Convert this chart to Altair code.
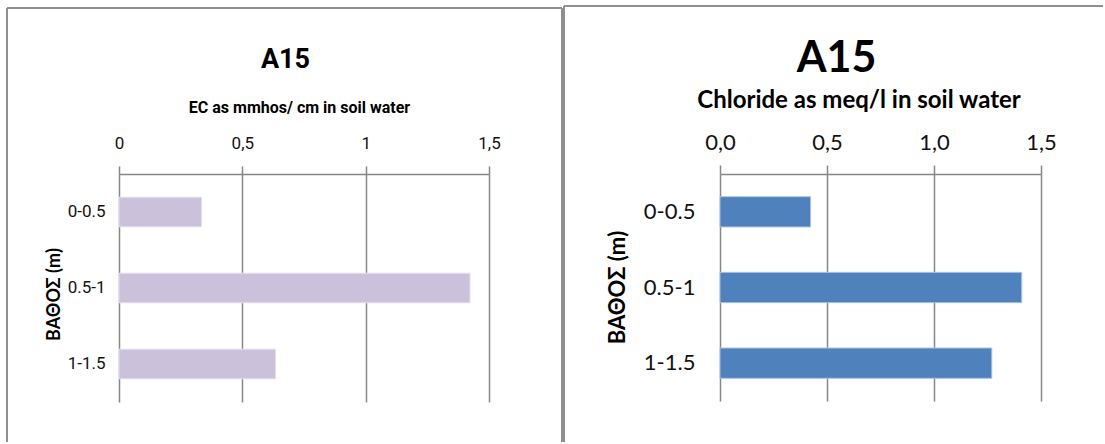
import altair as alt
import pandas as pd

# ---------------- data ----------------
depths = ["0-0.5", "0.5-1", "1-1.5"]
ec_values = [0.335, 1.423, 0.635]
cl_values = [0.423, 1.41, 1.27]
tick_values = [0, 0.5, 1.0, 1.5]
ec_tick_labels = ["0", "0,5", "1", "1,5"]
cl_tick_labels = ["0,0", "0,5", "1,0", "1,5"]
panel_title = "A15"
ec_axis_title = "EC as mmhos/ cm in soil water"
cl_axis_title = "Chloride as meq/l in soil water"
depth_title = "ΒΑΘΟΣ (m)"

ec_df = pd.DataFrame({"depth": depths, "value": ec_values})
cl_df = pd.DataFrame({"depth": depths, "value": cl_values})
one = pd.DataFrame({"k": [0]})

NARROW = "Roboto, Liberation Sans, sans-serif"
WIDE = "Lato, Open Sans, sans-serif"
GRID = "#878787"
BORDER = "#8f8f8f"
TXT = "#111111"


def label_expr(values, labels):
    expr = "''"
    for v, l in reversed(list(zip(values, labels))):
        expr = f"datum.value == {v} ? '{l}' : ({expr})"
    return expr


def vrule(x, y1, y2):
    return alt.Chart(one).mark_rule(color=BORDER, strokeWidth=2).encode(
        x=alt.value(x), y=alt.value(y1), y2=alt.value(y2))


def hrule(y, x1, x2):
    return alt.Chart(one).mark_rule(color=BORDER, strokeWidth=2).encode(
        y=alt.value(y), x=alt.value(x1), x2=alt.value(x2))


def panel(df, color, stroke, width, height, tick_labels, axis_title, font,
          tick_size, tick_label_size, tick_label_pad, title_x, title_y, title_size,
          ylab_size, ylab_pad, ytitle_font, ytitle_size, ytitle_x, ytitle_y,
          pad_inner, head_font, head_size, head_x, head_y, borders):
    bars = alt.Chart(df).mark_bar(color=color, stroke=stroke, strokeWidth=1).encode(
        x=alt.X("value:Q",
                scale=alt.Scale(domain=[0, 1.5], nice=False, zero=True),
                axis=alt.Axis(orient="top", values=tick_values,
                              labelExpr=label_expr(tick_values, tick_labels),
                              labelFlush=False, labelOverlap=False,
                              labelFont=font, labelFontSize=tick_label_size,
                              labelColor=TXT, labelBaseline="alphabetic",
                              labelPadding=tick_label_pad,
                              tickSize=tick_size, tickColor=GRID, tickWidth=1.5,
                              domainColor=GRID, domainWidth=1.5,
                              grid=True, gridColor=GRID, gridWidth=1.5, gridOpacity=1,
                              title=axis_title, titleFont=font, titleFontSize=title_size,
                              titleFontWeight="bold", titleColor="#000000",
                              titleX=title_x, titleY=title_y, titleAlign="center",
                              titleBaseline="alphabetic")),
        y=alt.Y("depth:N", sort=depths,
                scale=alt.Scale(paddingInner=pad_inner, paddingOuter=pad_inner / 2),
                axis=alt.Axis(domain=False, ticks=False, grid=False,
                              labelFont=font, labelFontSize=ylab_size, labelColor=TXT,
                              labelPadding=ylab_pad,
                              title=depth_title, titleFont=ytitle_font,
                              titleFontSize=ytitle_size, titleFontWeight="bold",
                              titleColor="#000000", titleAngle=270,
                              titleX=ytitle_x, titleY=ytitle_y, titleAlign="center",
                              titleBaseline="middle")),
    )
    head = alt.Chart(one).mark_text(
        text=panel_title, font=head_font, fontSize=head_size, fontWeight="bold",
        color="#000000", align="center", baseline="alphabetic").encode(
        x=alt.value(head_x), y=alt.value(head_y))
    return alt.layer(*borders, bars, head).properties(width=width, height=height)


left = panel(ec_df, "#CCC1DA", "#e4def0", 370, 228, ec_tick_labels, ec_axis_title, NARROW,
             tick_size=8, tick_label_size=17, tick_label_pad=18,
             title_x=180, title_y=-62, title_size=16,
             ylab_size=17, ylab_pad=14, ytitle_font=WIDE, ytitle_size=18,
             ytitle_x=-65, ytitle_y=120, pad_inner=0.61,
             head_font=NARROW, head_size=27, head_x=166.5, head_y=-106,
             borders=[vrule(-112, -166, 268), hrule(-166, -112, 443), vrule(443, -166, 268)])

right = panel(cl_df, "#4F81BD", "#a9c2e2", 321, 227, cl_tick_labels, cl_axis_title, WIDE,
              tick_size=9, tick_label_size=22, tick_label_pad=16,
              title_x=138.5, title_y=-67, title_size=24,
              ylab_size=22, ylab_pad=25, ytitle_font=WIDE, ytitle_size=22,
              ytitle_x=-103, ytitle_y=113, pad_inner=0.6,
              head_font=WIDE, head_size=43, head_x=116.5, head_y=-102,
              borders=[vrule(-156, -168, 268), hrule(-168, -156, 383)])

chart = alt.hconcat(left, right, spacing=0).properties(
    padding={"left": 6, "top": 5, "right": 0, "bottom": 0},
    background="#ffffff",
).configure_view(stroke=None)

chart.save("out.html", embed_options={"renderer": "svg", "actions": False})
